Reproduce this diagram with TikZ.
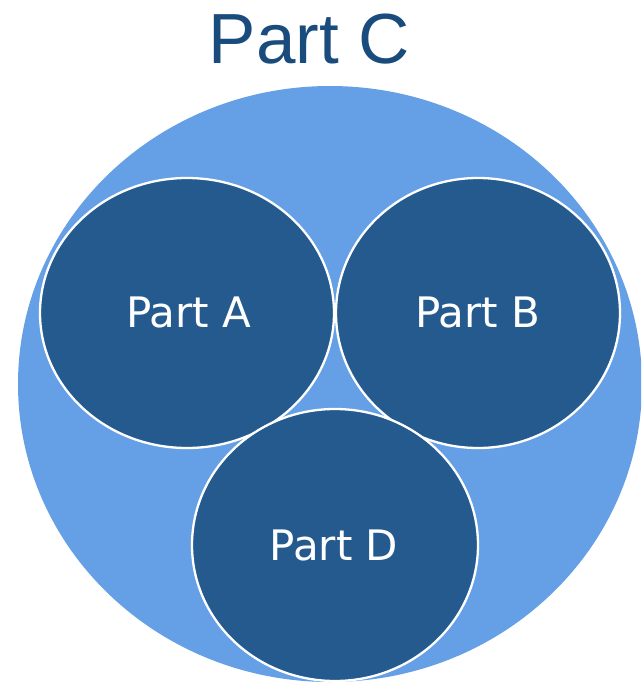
\documentclass[tikz,border=0pt]{standalone}
\usepackage{fontspec}
\setmainfont{Liberation Sans}
\newfontfamily\labelfont{DejaVu Sans}
\definecolor{outerblue}{HTML}{659FE6}
\definecolor{innerblue}{HTML}{255A8F}
\definecolor{titleblue}{HTML}{1A4B7D}
\begin{document}
\begin{tikzpicture}[x=1pt,y=-1pt,
  outer/.style={fill=outerblue,draw=none},
  part/.style={fill=innerblue,draw=white,line width=2.3pt},
  partlabel/.style={text=white,font=\labelfont\fontsize{42}{42}\selectfont,anchor=base,inner sep=0pt}]
\useasboundingbox (0,0) rectangle (641,683);
\begin{scope}
\clip (0,0) rectangle (641,683);
\fill[outer] (330,384) ellipse [x radius=312, y radius=298];
\end{scope}
\node[text=titleblue,font=\fontsize{71}{71}\selectfont,anchor=base,inner sep=0pt] (title) at (309.5,63) {Part C};
\draw[part] (187,313) ellipse [x radius=147, y radius=135];
\draw[part] (478,313) ellipse [x radius=142, y radius=135];
\draw[part] (335,545) ellipse [x radius=143, y radius=136];
\node[partlabel] (la) at (189,327) {Part A};
\node[partlabel] (lb) at (478,327) {Part B};
\node[partlabel] (ld) at (334,560) {Part D};
\end{tikzpicture}
\end{document}
